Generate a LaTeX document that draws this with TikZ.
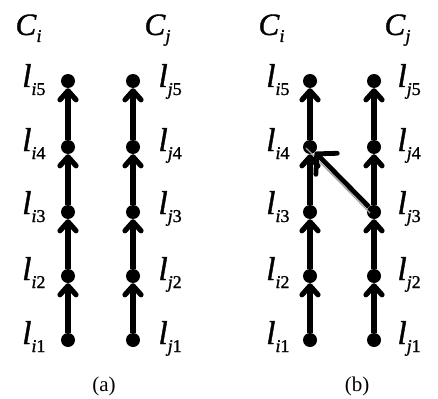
\documentclass[tikz,border=0pt]{standalone}
\usepackage{fontspec}
\setmainfont{Liberation Serif}
\newfontfamily\labfont{Liberation Serif}[FakeBold=1.2]
\usetikzlibrary{arrows.meta}
\newcommand{\mylab}[2]{\labfont\textit{l}\raisebox{-8pt}{\fontsize{18}{18}\selectfont\textit{#1}#2}}
\newcommand{\myC}[1]{\labfont\textit{C}\raisebox{-7pt}{\fontsize{18}{18}\selectfont\textit{#1}}}
\begin{document}
\begin{tikzpicture}[x=1pt,y=-1pt,
  dot/.style={circle,fill=black,inner sep=0pt,minimum size=14pt},
  edge/.style={line width=5.2pt,-{Straight Barb[length=9pt,width=16pt,round]}},
  cross/.style={line width=4.8pt,-{Straight Barb[length=14pt,width=30pt,round]}},
  shadow/.style={gray!70,line width=1.3pt},
  lleft/.style={anchor=base east,font=\fontsize{33}{33}\selectfont},
  lright/.style={anchor=base west,font=\fontsize{33}{33}\selectfont},
  ctitle/.style={anchor=base west,font=\fontsize{31}{31}\selectfont},
  captext/.style={font=\fontsize{21}{21}\selectfont}]
\useasboundingbox (0,0) rectangle (438,398);
\foreach \k/\y in {1/340,2/276,3/212,4/147,5/81}{
  \node[dot] (ai\k) at (68,\y) {};
  \node[dot] (aj\k) at (133,\y) {};
  \node[dot] (bi\k) at (310,\y) {};
  \node[dot] (bj\k) at (374,\y) {};
}
\foreach \p in {a,b}{
  \foreach \k/\n in {1/2,2/3,3/4,4/5}{
    \draw[edge] (\p i\k) -- (\p i\n);
    \draw[edge] (\p j\k) -- (\p j\n);
  }
}
\draw[shadow] ([xshift=-4pt,yshift=-1pt]bj3.center) -- ([xshift=-4pt,yshift=-1pt]bi4.center);
\draw[cross] (bj3) -- (bi4);
\foreach \k/\y in {1/344,2/280,3/214,4/151,5/87}{
  \node[lleft] (lai\k) at (49,\y) {\mylab{i}{\k}};
  \node[lright] (laj\k) at (155,\y) {\mylab{j}{\k}};
  \node[lleft] (lbi\k) at (293,\y) {\mylab{i}{\k}};
  \node[lright] (lbj\k) at (394,\y) {\mylab{j}{\k}};
}
\node[ctitle] (aci) at (12,35) {\myC{i}};
\node[ctitle] (acj) at (141,35) {\myC{j}};
\node[ctitle] (bci) at (255,35) {\myC{i}};
\node[ctitle] (bcj) at (381,35) {\myC{j}};
\node[captext] (capa) at (104,386) {(a)};
\node[captext] (capb) at (357,386) {(b)};
\end{tikzpicture}
\end{document}
